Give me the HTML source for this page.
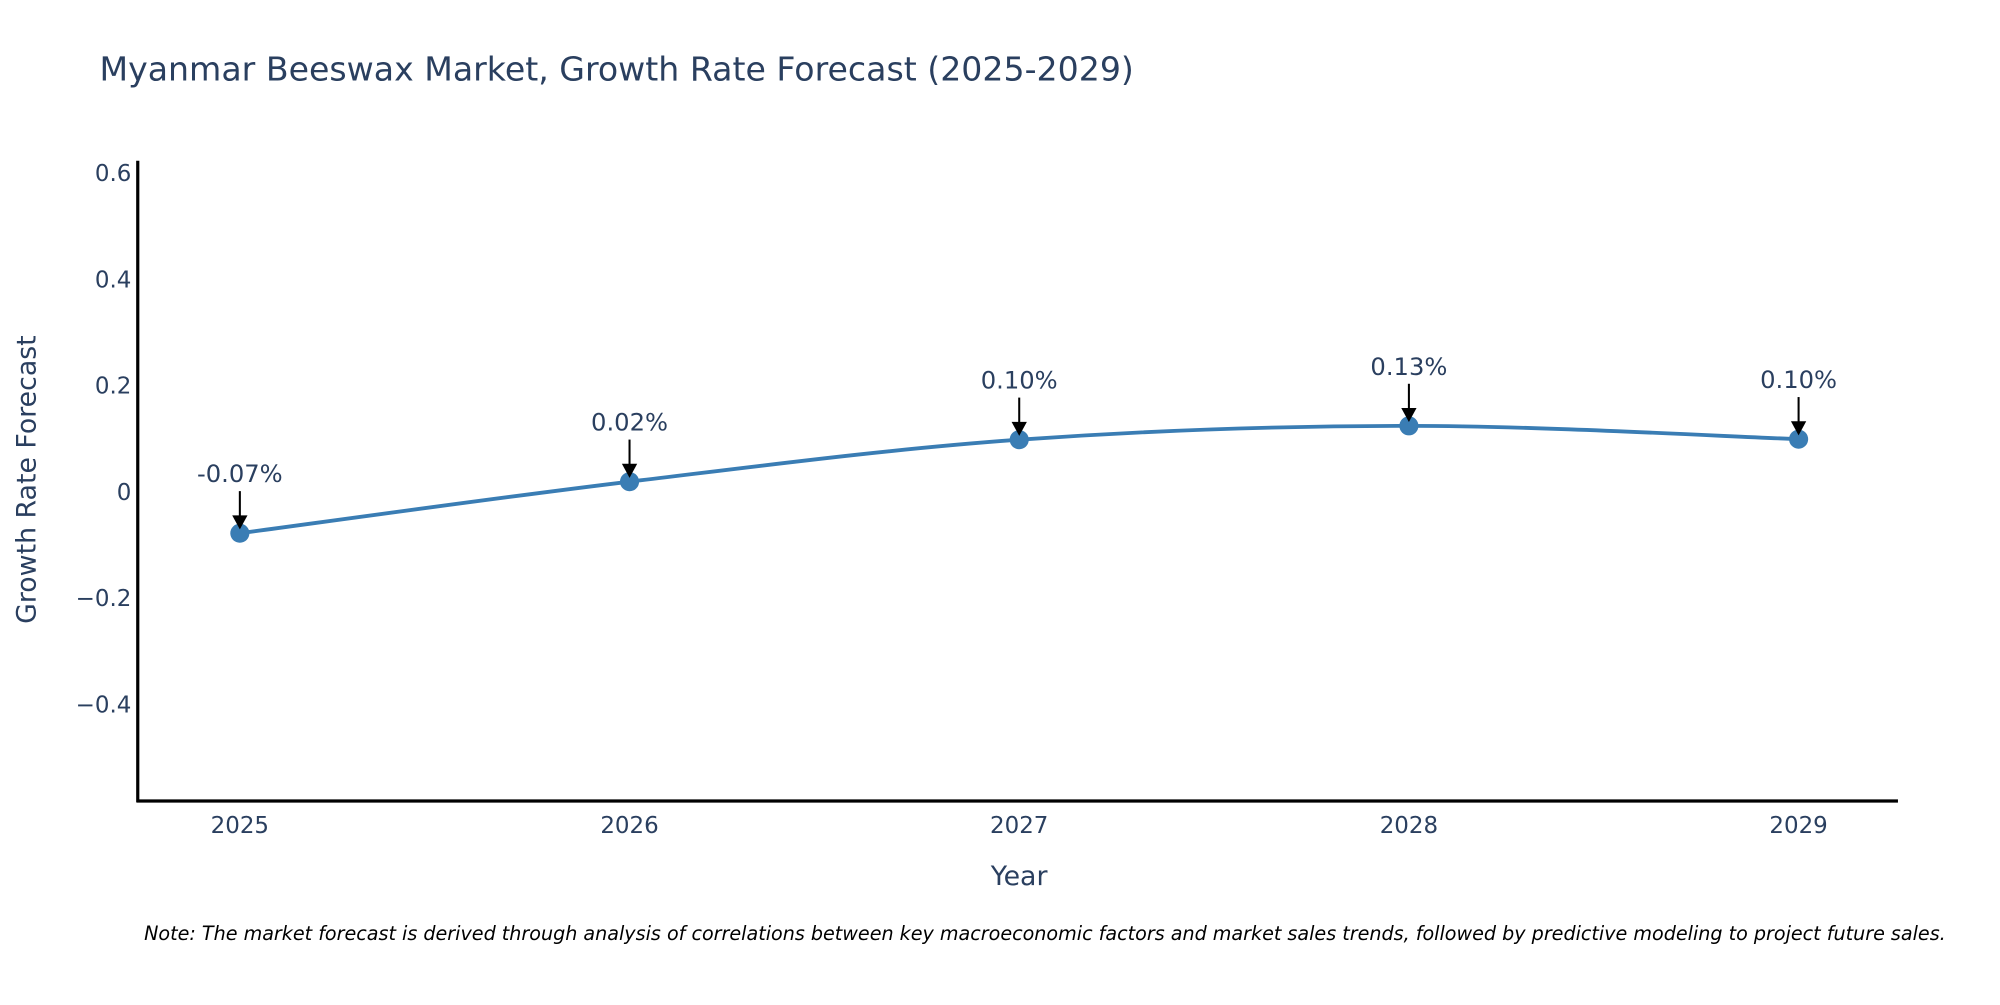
<!DOCTYPE html>
<html><head><meta charset="utf-8"><style>
html,body{margin:0;padding:0;background:#fff;overflow:hidden;}
svg text{font-family:"DejaVu Sans","Liberation Sans",sans-serif;}
</style></head><body>
<svg id="chart" width="2000" height="1000" viewBox="0 0 1568 784" xmlns="http://www.w3.org/2000/svg">
<rect width="1568" height="784" fill="#fff"/>
<text x="78" y="63" font-size="26" fill="#2a3f5f">Myanmar Beeswax Market, Growth Rate Forecast (2025-2029)</text>
<g id="yticks"></g>
<g id="xticks"></g>
<line x1="108" y1="126" x2="108" y2="629" stroke="#000" stroke-width="2.5"/>
<line x1="107" y1="628" x2="1488" y2="628" stroke="#000" stroke-width="2.5"/>
<g id="series"></g>
<g id="annots"></g>
<text x="28" y="376" font-size="21" fill="#2a3f5f" text-anchor="middle" transform="rotate(-90 28 376)">Growth Rate Forecast</text>
<text x="799" y="694" font-size="21" fill="#2a3f5f" text-anchor="middle">Year</text>
<text x="113" y="737" font-size="15" font-style="italic" fill="#000">Note: The market forecast is derived through analysis of correlations between key macroeconomic factors and market sales trends, followed by predictive modeling to project future sales.</text>
</svg>
<script>
const years = [2025, 2026, 2027, 2028, 2029];
const growth = [-0.077, 0.02, 0.099, 0.125, 0.10];
const labels = ["-0.07%", "0.02%", "0.10%", "0.13%", "0.10%"];
const yTickValues = [-0.4, -0.2, 0, 0.2, 0.4, 0.6];
const yTickLabels = ["\u22120.4", "\u22120.2", "0", "0.2", "0.4", "0.6"];

const NS = "http://www.w3.org/2000/svg";
const xMin = 2024.738, xMax = 2029.255, px0 = 108, px1 = 1488;
const yMin = -0.581, yMax = 0.624, py0 = 628, py1 = 126;
function xs(v){return px0 + (v - xMin) / (xMax - xMin) * (px1 - px0);}
function ys(v){return py0 - (v - yMin) / (yMax - yMin) * (py0 - py1);}
function mk(tag, attrs, parent){const e=document.createElementNS(NS,tag);for(const k in attrs)e.setAttribute(k,attrs[k]);parent.appendChild(e);return e;}

const yt = document.getElementById('yticks');
yTickValues.forEach((v,i)=>{
  const t = mk('text',{x:103,y:ys(v)+6,'font-size':18,fill:'#2a3f5f','text-anchor':'end'},yt);
  
  
  t.textContent = yTickLabels[i];
});
const xt = document.getElementById('xticks');
years.forEach(y=>{
  const t = mk('text',{x:xs(y),y:653,'font-size':18,fill:'#2a3f5f','text-anchor':'middle'},xt);
  
  
  t.textContent = String(y);
});

const pts = years.map((y,i)=>[xs(y), ys(growth[i])]);
let d = `M${pts[0][0]},${pts[0][1]}`;
for(let i=0;i<pts.length-1;i++){
  const p0=pts[Math.max(0,i-1)], p1=pts[i], p2=pts[i+1], p3=pts[Math.min(pts.length-1,i+2)];
  const k=1/6;
  const c1=[p1[0]+(p2[0]-p0[0])*k, p1[1]+(p2[1]-p0[1])*k];
  const c2=[p2[0]-(p3[0]-p1[0])*k, p2[1]-(p3[1]-p1[1])*k];
  d += ` C${c1[0]},${c1[1]} ${c2[0]},${c2[1]} ${p2[0]},${p2[1]}`;
}
const series = document.getElementById('series');
const line = mk('path',{d:d,fill:'none',stroke:'#3a7db4','stroke-width':3},series);


pts.forEach(p=>{
  const c = mk('circle',{cx:p[0],cy:p[1],r:7.5,fill:'#3a7db4'},series);
  
  
});

const an = document.getElementById('annots');
pts.forEach((p,i)=>{
  const l = mk('line',{x1:p[0],y1:p[1]-33,x2:p[0],y2:p[1]-12,stroke:'#000','stroke-width':1.6},an);
  
  
  const h = mk('polygon',{points:`${p[0]-6},${p[1]-14} ${p[0]+6},${p[1]-14} ${p[0]},${p[1]-3}`,fill:'#000'},an);
  
  
  const t = mk('text',{x:p[0],y:p[1]-40,'font-size':19,fill:'#2a3f5f','text-anchor':'middle'},an);
  
  
  t.textContent = labels[i];
});
</script>
</body></html>
